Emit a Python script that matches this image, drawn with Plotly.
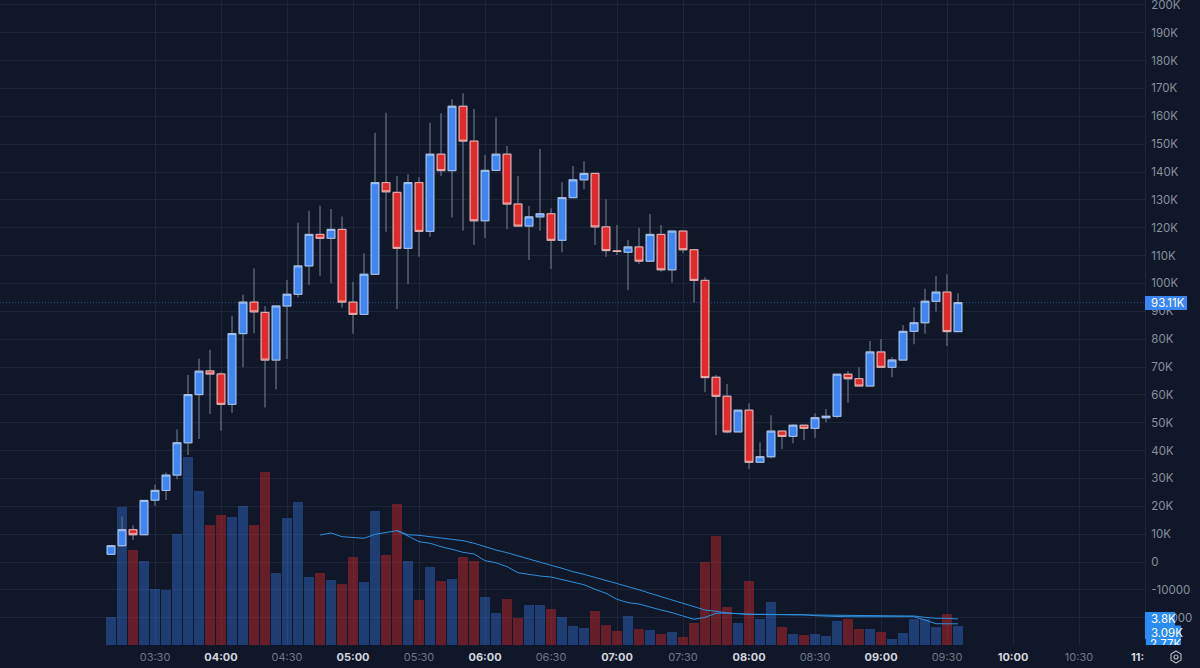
import pandas as pd
import plotly.graph_objects as go

W, H = 1200, 668
PLOT_R, PLOT_B = 1145, 645
BG = "#0f1729"
GRID = "#1d2638"
FONT = "Inter"

DAY = "2024-01-01 "
times = pd.date_range(DAY + "03:10", periods=78, freq="5min")

opens = [2.76, 5.85, 11.6, 9.8, 22.2, 25.7, 31.2, 42.8, 60.1, 68.6, 67.5, 56.6, 82.0, 93.3, 89.6, 72.5, 91.9, 96.1, 106.3, 117.6,
         116.2, 119.4, 93.3, 88.9, 103.3, 136.2, 132.7, 112.6, 136.2, 118.7, 146.4, 140.5, 163.6, 151.1, 122.5, 140.6, 146.4, 128.5, 120.6, 123.9,
         125.0, 115.5, 130.8, 137.2, 139.5, 120.3, 111.7, 111.2, 113.1, 108.0, 117.6, 104.9, 118.8, 112.1, 101.1, 66.3, 59.5, 46.7, 54.5, 35.8,
         37.8, 47.0, 45.1, 49.1, 48.0, 51.8, 52.3, 67.4, 65.8, 63.2, 75.4, 69.9, 72.5, 82.8, 85.9, 93.6, 96.9, 82.7]
closes = [5.85, 11.6, 9.8, 22.1, 25.7, 31.2, 42.8, 60.1, 68.5, 67.5, 56.6, 82.0, 93.3, 89.8, 72.5, 91.9, 96.1, 106.3, 117.6, 116.2,
          119.4, 93.3, 88.9, 103.3, 136.2, 132.9, 112.6, 136.2, 118.7, 146.4, 140.5, 163.6, 151.1, 122.5, 140.6, 146.4, 128.5, 120.6, 123.9, 125.0,
          115.5, 130.8, 137.2, 139.5, 120.3, 111.8, 111.5, 113.1, 108.0, 117.6, 104.9, 118.8, 112.1, 101.1, 66.2, 59.5, 46.7, 54.5, 35.8, 37.8,
          47.0, 45.1, 49.1, 48.0, 51.8, 52.3, 67.4, 65.8, 63.2, 75.4, 69.9, 72.5, 82.8, 85.9, 93.6, 96.9, 82.7, 93.11]
highs = [5.9, 16.3, 13.2, 22.2, 27.8, 32.1, 47.6, 67.1, 73.0, 76.2, 68.1, 88.4, 95.9, 105.5, 91.9, 92.1, 101.2, 121.8, 126.1, 127.9,
         126.7, 124.0, 100.6, 110.8, 154.1, 161.3, 138.6, 139.2, 138.1, 157.7, 161.1, 166.1, 168.3, 162.6, 146.1, 159.6, 149.3, 138.6, 127.8, 148.3,
         127.0, 136.3, 142.2, 143.9, 139.7, 130.2, 121.0, 115.6, 120.0, 124.9, 121.0, 119.0, 119.0, 112.2, 102.2, 67.1, 63.9, 54.6, 57.0, 43.0,
         52.7, 47.1, 49.5, 49.3, 53.4, 54.9, 67.5, 68.6, 69.9, 79.3, 80.1, 73.5, 85.1, 91.5, 98.1, 102.7, 103.3, 96.5]
lows = [2.7, 5.4, 7.9, 9.7, 20.2, 22.3, 29.7, 38.4, 44.2, 53.1, 47.1, 53.6, 69.9, 82.1, 55.5, 62.0, 72.9, 95.0, 99.4, 102.8,
        100.1, 91.4, 81.9, 88.7, 103.2, 118.6, 90.8, 99.8, 109.6, 116.8, 138.6, 123.7, 118.9, 113.8, 116.2, 140.5, 119.4, 120.5, 108.4, 118.9,
        105.2, 111.2, 130.7, 133.8, 113.8, 109.6, 110.2, 97.6, 107.0, 107.9, 104.2, 100.3, 110.8, 93.1, 60.9, 45.6, 46.2, 46.6, 33.4, 35.7,
        37.2, 40.6, 42.6, 43.8, 44.6, 50.2, 51.6, 57.2, 63.1, 63.1, 69.8, 66.3, 72.4, 78.2, 81.9, 89.8, 77.5, 82.6]
volumes = [4.13, 20.2, 13.87, 12.3, 8.18, 8.03, 16.2, 27.45, 22.5, 17.5, 18.98, 18.7, 20.3, 17.5, 25.2, 10.56, 18.6, 20.9, 9.97, 10.56,
           9.49, 8.9, 12.85, 9.15, 19.56, 13.14, 20.58, 12.26, 6.6, 11.39, 9.34, 9.68, 12.89, 12.3, 6.96, 4.72, 6.72, 3.9, 5.8, 5.84,
           5.26, 4.09, 2.77, 2.44, 5.0, 2.92, 2.04, 4.23, 2.34, 2.19, 1.65, 1.9, 1.17, 3.17, 12.07, 15.9, 5.5, 3.26, 9.3, 3.75,
           6.28, 2.67, 1.56, 1.5, 1.56, 1.27, 3.46, 3.75, 2.29, 2.34, 1.9, 0.88, 1.8, 3.8, 3.75, 2.67, 4.57, 2.77]
ma_short = [16.06, 16.35, 15.81, 15.72, 15.58, 16.16, 16.45, 16.69, 15.91, 15.08, 14.85, 14.35, 13.97, 13.53, 13.28, 12.31, 12.01, 11.43,
            10.55, 10.26, 10.07, 9.93, 9.59, 9.2, 8.8, 8.13, 7.55, 6.67, 6.18, 5.99, 5.5, 5.11, 4.72, 4.23, 3.75, 4.04, 4.63, 4.67, 4.53,
            4.48, 4.48, 4.48, 4.48, 4.48, 4.42, 4.28, 4.19, 4.16, 4.13, 4.13, 4.13, 4.13, 4.13, 4.13, 4.13, 3.65, 3.11, 3.1, 3.09]
ma_long = [16.69, 16.1, 16.01, 15.81, 15.66, 15.43, 15.23, 14.85, 14.35, 13.87, 13.47, 12.99, 12.51, 12.12, 11.64, 11.2, 10.7, 10.32,
           9.88, 9.39, 8.95, 8.51, 8.07, 7.55, 7.05, 6.57, 6.09, 5.59, 5.11, 4.92, 4.67, 4.57, 4.48, 4.45, 4.44, 4.42, 4.41, 4.38, 4.35,
           4.32, 4.31, 4.29, 4.28, 4.26, 4.25, 4.23, 4.23, 4.23, 4.04, 3.9, 3.9, 3.8]
last_price = 93.11

x_ticks = ["03:30", "04:00", "04:30", "05:00", "05:30", "06:00", "06:30", "07:00", "07:30",
           "08:00", "08:30", "09:00", "09:30", "10:00", "10:30"]
y_tick_vals = [200, 190, 180, 170, 160, 150, 140, 130, 120, 110, 100, 90, 80, 70, 60, 50, 40, 30, 20, 10, 0, -10, -20]
y_tick_text = ["200K", "190K", "180K", "170K", "160K", "150K", "140K", "130K", "120K", "110K", "100K", "90K", "80K",
               "70K", "60K", "50K", "40K", "30K", "20K", "10K", "0", "-10000", "-20000"]
vol_badges = ["3.8K", "3.09K", "2.77K"]

BLUE, RED = "#3f86f5", "#e22a2a"
bar_colors = ["rgba(59,130,246,0.36)" if c >= o else "rgba(225,40,40,0.42)" for o, c in zip(opens, closes)]
dom_x = [0, PLOT_R / W]
dom_y = [(H - PLOT_B) / H, 1]


def px(x):
    return x / W


def py(y):
    return 1 - y / H


fig = go.Figure()
fig.add_trace(go.Bar(x=times, y=volumes, width=270000, marker=dict(color=bar_colors, line_width=0),
                     xaxis="x", yaxis="y", name="Volume"))
fig.add_trace(go.Scatter(x=times[-len(ma_long):], y=ma_long, mode="lines", line=dict(color="#2f8fdc", width=1),
                         xaxis="x", yaxis="y", name="MA long"))
fig.add_trace(go.Scatter(x=times[-len(ma_short):], y=ma_short, mode="lines", line=dict(color="#2f8fdc", width=1),
                         xaxis="x", yaxis="y", name="MA short"))
fig.add_trace(go.Candlestick(x=times, open=opens, high=highs, low=lows, close=closes, whiskerwidth=0,
                             increasing=dict(line=dict(color="#5d6678", width=1.4), fillcolor=BLUE),
                             decreasing=dict(line=dict(color="#5d6678", width=1.4), fillcolor=RED),
                             xaxis="x", yaxis="y2", name="Wicks"))
fig.add_trace(go.Candlestick(x=times, open=opens, close=closes,
                             high=[max(o, c) for o, c in zip(opens, closes)],
                             low=[min(o, c) for o, c in zip(opens, closes)], whiskerwidth=0,
                             increasing=dict(line=dict(color="#abc6ee", width=1), fillcolor=BLUE),
                             decreasing=dict(line=dict(color="#ecb6b6", width=1), fillcolor=RED),
                             xaxis="x", yaxis="y2", name="Bodies"))
# right-hand strip, only so that the last badge is clipped at the axis bottom
fig.add_trace(go.Scatter(x=[5 / 55], y=[0], text=[vol_badges[2]], mode="text", textposition="middle right",
                         cliponaxis=True, textfont=dict(family=FONT, size=11.5, color="#ffffff"),
                         xaxis="x2", yaxis="y3", showlegend=False))

tick_text = []
for t in x_ticks:
    if t.endswith(":00"):
        tick_text.append(f'<span style="color:#d3d6dc"><b>{t}</b></span>')
    else:
        tick_text.append(t)

shapes = [
    dict(type="line", xref="paper", x0=0, x1=PLOT_R / W, yref="y2", y0=last_price, y1=last_price,
         line=dict(color="#2a5190", width=1, dash="1px,2px"), layer="below"),
    dict(type="rect", xref="paper", yref="paper", x0=px(PLOT_R), x1=px(1187), y0=py(310), y1=py(296),
         fillcolor="#3b86f6", line_width=0),
    dict(type="rect", xref="paper", yref="paper", x0=px(PLOT_R), x1=px(1175), y0=py(626), y1=py(612),
         fillcolor="#2a8cf2", line_width=0),
    dict(type="rect", xref="paper", yref="paper", x0=px(PLOT_R), x1=px(1181), y0=py(639), y1=py(625.5),
         fillcolor="#2a8cf2", line_width=0),
    dict(type="rect", xref="paper", yref="paper", x0=px(PLOT_R), x1=px(1181), y0=py(645), y1=py(639),
         fillcolor="#2a8cf2", line_width=0, layer="below"),
    # chart-settings icon
    dict(type="path", xref="paper", yref="paper",
         path="M {} {} L {} {} L {} {} L {} {} L {} {} L {} {} Z".format(
             px(1176), py(651), px(1181), py(654), px(1181), py(660),
             px(1176), py(663), px(1171), py(660), px(1171), py(654)),
         line=dict(color="#aeb3bc", width=1.2)),
    dict(type="circle", xref="paper", yref="paper", x0=px(1174), x1=px(1178), y0=py(659), y1=py(655),
         line=dict(color="#aeb3bc", width=1.2)),
]


def badge(text, x, y):
    return dict(text=text, xref="paper", yref="paper", x=px(x), y=py(y), xanchor="left", yanchor="middle",
                showarrow=False, font=dict(family=FONT, size=11.5, color="#ffffff"))


annotations = [
    badge("93.11K", 1149, 303),
    badge(vol_badges[0], 1149, 619),
    badge(vol_badges[1], 1149, 632.5),
    dict(text="<b>11:</b>", xref="paper", yref="paper", x=px(1146), y=py(657), xanchor="right", yanchor="middle",
         showarrow=False, font=dict(family=FONT, size=11, color="#d3d6dc")),
]

fig.update_layout(
    width=W, height=H, margin=dict(l=0, r=0, t=0, b=0, pad=0, autoexpand=False),
    paper_bgcolor=BG, plot_bgcolor=BG, showlegend=False, bargap=0, hovermode=False,
    boxgap=0.3, boxgroupgap=0, boxmode="overlay",
    font=dict(family=FONT, size=11, color="#8a909c"),
    shapes=shapes, annotations=annotations,
    xaxis=dict(type="date", domain=dom_x, range=[DAY + "02:19:32", DAY + "11:00:00"],
               tickvals=[DAY + t for t in x_ticks], ticktext=tick_text, tickangle=0,
               tickfont=dict(family=FONT, size=11, color="#717783"), ticks="", ticklabelstandoff=4,
               showgrid=True, gridcolor=GRID, gridwidth=1, zeroline=False, showline=False,
               rangeslider=dict(visible=False), anchor="y"),
    yaxis=dict(domain=dom_y, range=[0, PLOT_B / 6.85], visible=False, showgrid=False, zeroline=False, anchor="x"),
    yaxis2=dict(domain=dom_y, range=[-(PLOT_B - 562) * 0.359, 562 * 0.359], overlaying="y", side="right", anchor="x",
                tickvals=y_tick_vals, ticktext=y_tick_text, ticks="", ticklabelstandoff=3, ticklabeloverflow="allow",
                tickfont=dict(family=FONT, size=11.5, color="#8a909c"),
                showgrid=True, gridcolor=GRID, gridwidth=1, zeroline=False, showline=True, linecolor=GRID, linewidth=1),
    xaxis2=dict(domain=[PLOT_R / W, 1], range=[0, 1], visible=False, anchor="y3", fixedrange=True),
    yaxis3=dict(domain=dom_y, range=[0, 100], visible=False, anchor="x2", fixedrange=True),
)

fig.write_html("out.html", config=dict(displayModeBar=False, responsive=False),
               post_script=f"document.body.style.margin='0';document.body.style.background='{BG}';document.body.style.overflow='hidden';")
